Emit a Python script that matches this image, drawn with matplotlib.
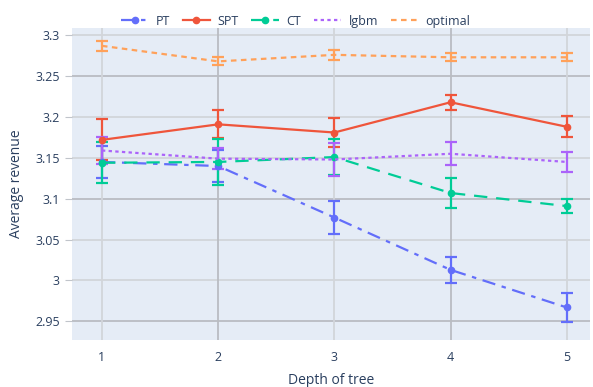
import matplotlib.pyplot as plt
from matplotlib.lines import Line2D

plt.rcParams['font.family'] = ['Open Sans', 'DejaVu Sans']

depth = [1, 2, 3, 4, 5]

pt = [3.145, 3.140, 3.077, 3.013, 2.967]
pt_err = [0.020, 0.020, 0.020, 0.016, 0.018]
spt = [3.172, 3.191, 3.181, 3.218, 3.188]
spt_err = [0.025, 0.017, 0.018, 0.009, 0.013]
ct = [3.144, 3.145, 3.151, 3.107, 3.091]
ct_err = [0.025, 0.028, 0.022, 0.018, 0.009]
lgbm = [3.159, 3.149, 3.148, 3.155, 3.145]
lgbm_err = [0.017, 0.013, 0.020, 0.014, 0.012]
optimal = [3.287, 3.268, 3.276, 3.273, 3.273]
optimal_err = [0.006, 0.005, 0.006, 0.005, 0.005]

yticks = [2.95, 3.0, 3.05, 3.1, 3.15, 3.2, 3.25, 3.3]
ytick_labels = ['2.95', '3', '3.05', '3.1', '3.15', '3.2', '3.25', '3.3']

text_col = '#2a3f5f'

fig = plt.figure(figsize=(5.93, 3.87), dpi=100)
ax = fig.add_axes([0.121, 0.121, 0.874, 0.807])
ax.set_facecolor('#e5ecf6')

# grid lines, some drawn darker like the reference
dark_y = [2.95, 3.1, 3.25]
for y in yticks:
    ax.axhline(y, color='#b9bcc2' if y in dark_y else '#d2d5da', lw=1.3, zorder=0)
for x in depth:
    ax.axvline(x, color='#b9bcc2' if x in (2, 4) else '#d2d5da', lw=1.3, zorder=0)

series = [
    ('PT', pt, pt_err, '#636efa', (0, (6, 3, 2, 3)), 'o'),
    ('SPT', spt, spt_err, '#ef553b', '-', 'o'),
    ('CT', ct, ct_err, '#00cc96', (0, (6, 4)), 'o'),
    ('lgbm', lgbm, lgbm_err, '#ab63fa', (0, (1.5, 1.5)), None),
    ('optimal', optimal, optimal_err, '#ffa15a', (0, (2.5, 2)), None),
]

handles = []
for name, vals, err, col, ls, mk in series:
    ax.errorbar(depth, vals, yerr=err, color=col, ls=ls, lw=1.6, marker=mk,
                ms=4.5, capsize=4, capthick=1.6, elinewidth=1.6, zorder=3)
    handles.append(Line2D([], [], color=col, ls=ls, lw=1.6, marker=mk, ms=4.5, label=name))

ax.set_xlim(0.74, 5.2)
ax.set_ylim(2.927, 3.309)
ax.set_xticks(depth)
ax.set_yticks(yticks)
ax.set_yticklabels(ytick_labels)
ax.tick_params(axis='y', length=5, color='#c0c4ca', labelsize=9, labelcolor=text_col)
ax.tick_params(axis='x', length=0, pad=8, labelsize=9, labelcolor=text_col)
for s in ax.spines.values():
    s.set_visible(False)

ax.set_xlabel('Depth of tree', fontsize=10, color=text_col, labelpad=6)
ax.set_ylabel('Average revenue', fontsize=10, color=text_col, labelpad=8)

ax.legend(handles=handles, loc='lower center', bbox_to_anchor=(0.432, 0.985), ncol=5,
          frameon=False, fontsize=9, labelcolor=text_col, handlelength=2.2,
          columnspacing=1.0, handletextpad=0.6, borderaxespad=0)

fig.savefig('out.png', dpi=100)
